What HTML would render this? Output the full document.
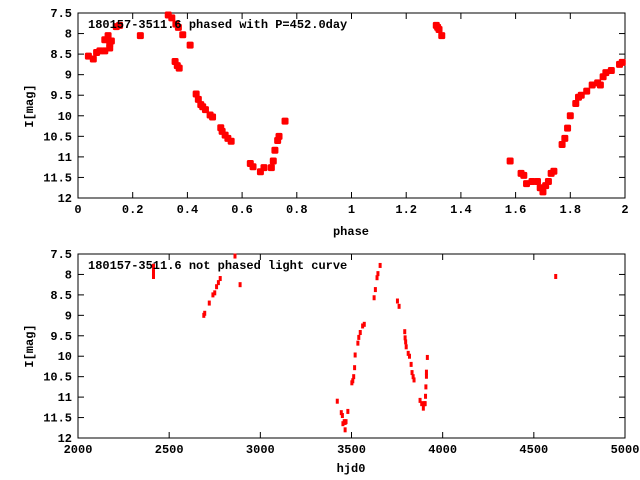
<!DOCTYPE html>
<html><head><meta charset="utf-8"><style>
body{margin:0;background:#fff}
svg{display:block;font-family:"Liberation Mono",monospace;font-size:12px;font-weight:bold}
</style></head><body>
<svg id="c" width="640" height="480">
<g id="p1"></g>
<g id="p2"></g>
</svg>
<script>
const phaseTicks=[0,0.2,0.4,0.6,0.8,1,1.2,1.4,1.6,1.8,2];
const hjdTicks=[2000,2500,3000,3500,4000,4500,5000];
const magTicks=[7.5,8,8.5,9,9.5,10,10.5,11,11.5,12];
const phaseX=[0.038,0.056,0.068,0.08,0.098,0.098,0.11,0.116,0.116,0.122,0.14,0.152,0.228,0.33,0.343,0.358,0.367,0.383,0.355,0.363,0.37,0.41,0.432,0.44,0.449,0.456,0.466,0.483,0.492,0.522,0.527,0.538,0.548,0.56,0.63,0.64,0.667,0.68,0.707,0.714,0.72,0.73,0.735,0.757,
1.31,1.315,1.32,1.33,1.58,1.62,1.63,1.64,1.66,1.68,1.69,1.70,1.71,1.72,1.73,1.74,1.77,1.78,1.79,1.80,1.82,1.83,1.84,1.86,1.88,1.90,1.91,1.92,1.93,1.95,1.98,1.99];
const phaseMag=[8.55,8.62,8.46,8.42,8.42,8.15,8.05,8.25,8.35,8.18,7.83,7.8,8.05,7.55,7.62,7.77,7.85,8.03,8.68,8.78,8.84,8.28,9.47,9.6,9.73,9.78,9.85,9.98,10.03,10.29,10.38,10.47,10.55,10.62,11.16,11.24,11.36,11.26,11.26,11.1,10.84,10.6,10.5,10.13,
7.8,7.85,7.9,8.05,11.1,11.4,11.45,11.65,11.6,11.6,11.75,11.85,11.7,11.6,11.4,11.35,10.7,10.55,10.3,10.0,9.7,9.55,9.5,9.4,9.25,9.2,9.25,9.05,8.95,8.9,8.75,8.7];
const hjd=[2414,2414,2414,2414,2690,2695,2720,2740,2750,2760,2770,2780,2861,2889,3422,3444,3450,3453,3460,3465,3470,3465,3480,3502,3507,3512,3517,3520,3535,3540,3548,3561,3570,3624,3631,3640,3645,3657,3752,3761,3792,3794,3797,3800,3811,3818,3827,3832,3838,3843,3876,3885,3894,3900,3904,3906,3908,3911,3911,3916,4620];
const hjdMag=[7.8,7.85,7.95,8.05,9.0,8.95,8.7,8.5,8.45,8.3,8.2,8.1,7.55,8.25,11.1,11.38,11.45,11.65,11.6,11.62,11.6,11.8,11.35,10.65,10.6,10.5,10.28,9.97,9.68,9.54,9.42,9.26,9.22,8.57,8.37,8.08,7.98,7.78,8.65,8.78,9.4,9.55,9.65,9.77,9.93,10.0,10.2,10.4,10.5,10.58,11.08,11.16,11.27,11.16,11.16,10.98,10.75,10.49,10.39,10.03,8.05];
const NS='http://www.w3.org/2000/svg';
function mk(p,t,a){const e=document.createElementNS(NS,t);for(const k in a)e.setAttribute(k,a[k]);p.appendChild(e);return e;}
function plot(g,L,R,T,B,xmin,xmax,xt,xs,yt,yl){
 const sx=v=>L+(v-xmin)/(xmax-xmin)*(R-L), sy=v=>T+(v-7.5)/4.5*(B-T);
 const fr=mk(g,'rect',{x:L,y:T,width:R-L,height:B-T,fill:'none',stroke:'#000','stroke-width':1});
 
 
 xt.forEach(v=>{const x=sx(v);
  mk(g,'line',{x1:x,x2:x,y1:B,y2:B-6,stroke:'#000'});mk(g,'line',{x1:x,x2:x,y1:T,y2:T+6,stroke:'#000'});
  const t=mk(g,'text',{x:x,y:B+15,'text-anchor':'middle'});t.textContent=String(v);
  
  });
 yt.forEach(v=>{const y=sy(v);
  mk(g,'line',{x1:L,x2:L+6,y1:y,y2:y,stroke:'#000'});mk(g,'line',{x1:R,x2:R-6,y1:y,y2:y,stroke:'#000'});
  const t=mk(g,'text',{x:L-6,y:y+4,'text-anchor':'end'});t.textContent=String(v);
  
  });
 return {sx,sy};
}
const g1=document.getElementById('p1'),g2=document.getElementById('p2');
const a=plot(g1,78,625,13,198,0,2,phaseTicks,null,magTicks);
const b=plot(g2,78,625,254,438,2000,5000,hjdTicks,null,magTicks);
phaseX.forEach((v,i)=>{const r=mk(g1,'rect',{x:a.sx(v)-3.5,y:a.sy(phaseMag[i])-3.5,width:7,height:7,rx:1.5,fill:'#f00'});
 
 });
hjd.forEach((v,i)=>{const r=mk(g2,'rect',{x:b.sx(v)-1.5,y:b.sy(hjdMag[i])-2.5,width:3,height:5,fill:'#f00'});
 
 });
function txt(g,x,y,s,n,rot){const t=mk(g,'text',{x:x,y:y});t.textContent=s;if(rot){t.setAttribute('transform','rotate(-90 '+x+' '+y+')');t.setAttribute('text-anchor','middle');}
 
 return t;}
txt(g1,88,28,'180157-3511.6 phased with P=452.0day','top-title');
txt(g2,88,269,'180157-3511.6 not phased light curve','bottom-title');
txt(g1,33,106,'I[mag]','y-axis-title',true);
txt(g2,33,346,'I[mag]','y-axis-title',true);
const xl1=txt(g1,351,235,'phase','x-axis-title');xl1.setAttribute('text-anchor','middle');
const xl2=txt(g2,351,472,'hjd0','x-axis-title');xl2.setAttribute('text-anchor','middle');
</script>
</body></html>
